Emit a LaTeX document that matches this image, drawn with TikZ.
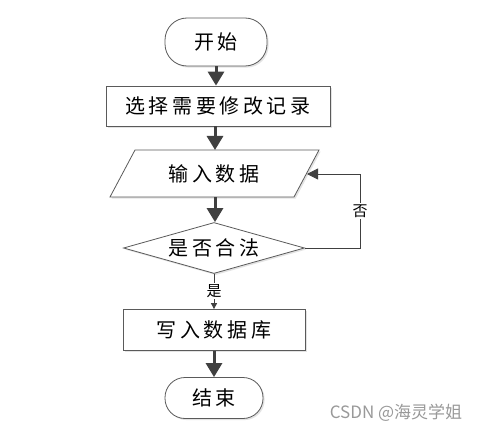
\documentclass[tikz,border=0pt]{standalone}
\usepackage{fontspec}
\newfontfamily\cjk[LetterSpace=18]{Noto Sans CJK SC}
\newfontfamily\cjkplain{Noto Sans CJK SC}
\usetikzlibrary{arrows.meta,shapes.geometric,shadows}
\definecolor{arrowgray}{HTML}{404040}
\definecolor{bordergray}{HTML}{5A5A5A}
\begin{document}
\begin{tikzpicture}[x=1pt,y=-1pt,
  shade/.style={drop shadow={opacity=0.22,shadow xshift=1.6pt,shadow yshift=-1.6pt}},
  boxbase/.style={draw=bordergray,line width=0.8pt,fill=white,shade,font=\cjk\fontsize{20}{22}\selectfont,inner sep=0pt},
  term/.style={boxbase,rounded corners=22pt},
  procbox/.style={boxbase},
  decbox/.style={boxbase,diamond,aspect=3.5},
  bigarrow/.style={draw=arrowgray,line width=3pt,-{Triangle[length=14pt,width=16pt]},arrowgray},
  thinarrow/.style={draw=arrowgray,line width=0.9pt},
  lbl/.style={fill=white,inner sep=1.5pt,font=\cjkplain\fontsize{15}{17}\selectfont}]
\useasboundingbox (0,0) rectangle (482,433);
\fill[white] (0,0) rectangle (482,433);

\node[term,minimum width=102pt,minimum height=48pt] (start) at (216,42) {开始};
\node[procbox,minimum width=224pt,minimum height=40pt] (r1) at (218,106) {选择需要修改记录};

\coordinate (inTL) at (135,150);
\coordinate (inTR) at (319,150);
\coordinate (inBR) at (294,197);
\coordinate (inBL) at (110,197);
\draw[draw=bordergray,line width=0.8pt,fill=white,shade] (inTL) -- (inTR) -- (inBR) -- (inBL) -- cycle;
\node[font=\cjk\fontsize{20}{22}\selectfont] (in) at (214,174) {输入数据};
\coordinate (inTop) at (215,150);
\coordinate (inBot) at (215,197);
\coordinate (inRight) at (307,174);

\node[decbox,minimum width=181pt,minimum height=51pt] (dec) at (214,248) {是否合法};
\node[procbox,minimum width=182pt,minimum height=41pt] (r2) at (214,330) {写入数据库};
\node[term,rounded corners=20pt,minimum width=98pt,minimum height=41pt] (end) at (214,398) {结束};

\draw[bigarrow] (start.south) -- (start.south |- r1.north);
\draw[bigarrow] (r1.south -| inTop) -- (inTop);
\draw[bigarrow] (inBot) -- (inBot |- dec.north);
\draw[bigarrow] (r2.south) -- (end.north);

\draw[thinarrow,-{Triangle[length=6pt,width=6pt]}] (dec.south) -- node[lbl,pos=0.48] (yes) {是} (r2.north);

\coordinate (loopA) at (360,248);
\coordinate (loopB) at (360,174);
\draw[thinarrow,-{Triangle[length=11pt,width=11pt]}] (dec.east) -- (loopA) -- node[lbl,pos=0.5] (no) {否} (loopB) -- (inRight);

\node[font=\cjkplain\fontsize{17}{19}\selectfont,text=black!40] (wm) at (396,413) {CSDN @海灵学姐};
\end{tikzpicture}
\end{document}
